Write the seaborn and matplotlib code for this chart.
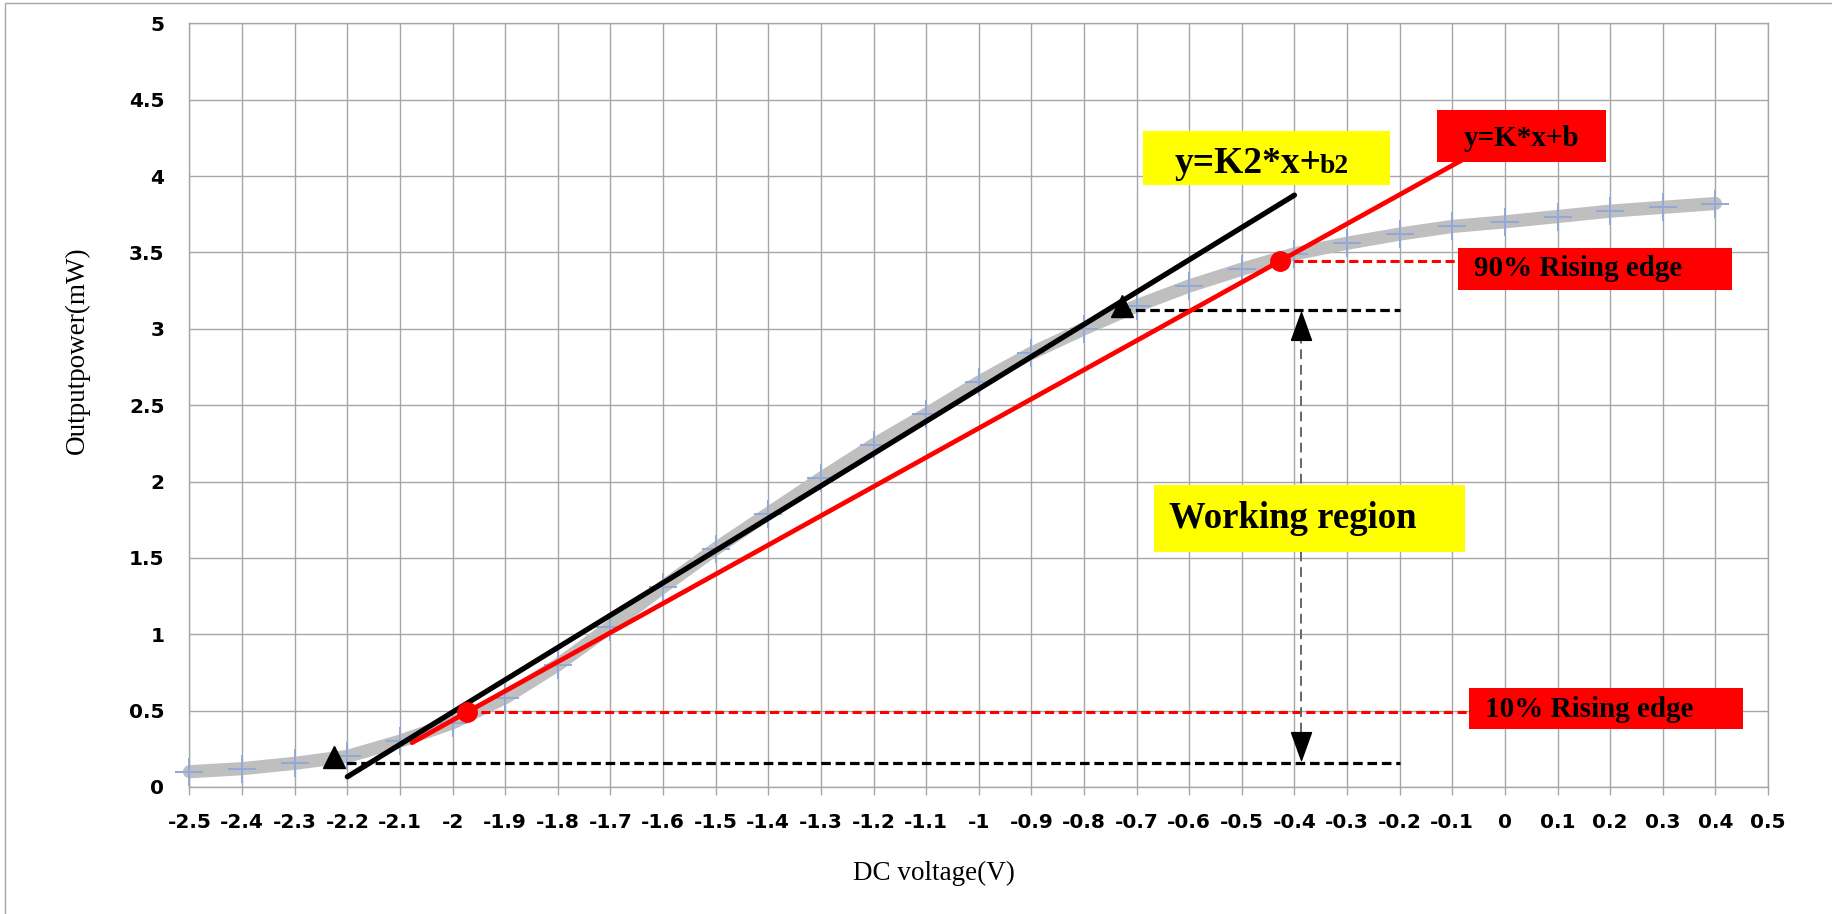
import numpy as np
import pandas as pd
import matplotlib
matplotlib.use("Agg")
import matplotlib.pyplot as plt
from matplotlib.patches import Rectangle
from matplotlib.lines import Line2D
import seaborn as sns

# ---------------- data ----------------
voltage = [-2.5, -2.4, -2.3, -2.2, -2.1, -2.0, -1.9, -1.8, -1.7, -1.6,
           -1.5, -1.4, -1.3, -1.2, -1.1, -1.0, -0.9, -0.8, -0.7, -0.6,
           -0.5, -0.4, -0.3, -0.2, -0.1, 0.0, 0.1, 0.2, 0.3, 0.4]
power = [0.10, 0.12, 0.155, 0.20, 0.30, 0.42, 0.585, 0.80, 1.05, 1.31,
         1.56, 1.79, 2.02, 2.24, 2.44, 2.65, 2.84, 3.00, 3.15, 3.28,
         3.39, 3.49, 3.56, 3.62, 3.67, 3.70, 3.735, 3.77, 3.795, 3.82]

# fitted lines (endpoints)
fit_k2_x = [-2.20, -0.40]
fit_k2_y = [0.067, 3.875]
fit_k_x = [-2.077, -0.06]
fit_k_y = [0.29, 4.146]

# 10% / 90% rising-edge points
edge_x = [-1.973, -0.428]
edge_y = [0.49, 3.443]
edge_line_end = [-0.069, -0.09]

# working region
region_low = 0.155
region_high = 3.124
region_low_start = -2.23
region_high_start = -0.73
region_end = -0.2
region_x = -0.388
tri_x = [-2.225, -0.728]
tri_y = [0.199, 3.151]

x_ticks = [-2.5, -2.4, -2.3, -2.2, -2.1, -2.0, -1.9, -1.8, -1.7, -1.6,
           -1.5, -1.4, -1.3, -1.2, -1.1, -1.0, -0.9, -0.8, -0.7, -0.6,
           -0.5, -0.4, -0.3, -0.2, -0.1, 0.0, 0.1, 0.2, 0.3, 0.4, 0.5]
y_ticks = [0, 0.5, 1, 1.5, 2, 2.5, 3, 3.5, 4, 4.5, 5]
x_label = "DC voltage(V)"
y_label = "Outputpower(mW)"

# ---------------- figure ----------------
sns.set_theme(style="white")
plt.rcParams['font.family'] = ['DejaVu Sans']
plt.rcParams['text.color'] = 'black'
serif = ['Liberation Serif', 'DejaVu Serif']

fig = plt.figure(figsize=(18.33, 9.14), dpi=100)
ax = fig.add_axes([0.10338, 0.13895, 0.86116, 0.83556])

df = pd.DataFrame({'voltage': voltage, 'power': power})
sns.lineplot(data=df, x='voltage', y='power', ax=ax, color='#bfbfbf', lw=9.5,
             solid_capstyle='round', zorder=2, clip_on=False)
sns.scatterplot(data=df, x='voltage', y='power', ax=ax, marker='+', s=380,
                color='#8fa9d6', linewidth=1.4, zorder=3, clip_on=False)

grid_c = '#a6a6a6'
dash = (0, (3, 1.5))
# dashed guide lines
ax.plot([edge_x[0], edge_line_end[0]], [edge_y[0]] * 2, color='red', lw=2.2, ls=dash, zorder=4)
ax.plot([edge_x[1], edge_line_end[1]], [edge_y[1]] * 2, color='red', lw=2.2, ls=dash, zorder=4)
ax.plot([region_low_start, region_end], [region_low] * 2, color='black', lw=2.3, ls=dash, zorder=4)
ax.plot([region_high_start, region_end], [region_high] * 2, color='black', lw=2.3, ls=dash, zorder=4)
ax.plot([region_x] * 2, [region_low + 0.1, region_high - 0.1], color='#666666', lw=1.4,
        ls=(0, (5, 3)), zorder=4)
down_head = [(-0.36, 0.5), (0.36, 0.5), (0, -0.5), (-0.36, 0.5)]
up_head = [(-0.36, -0.5), (0.36, -0.5), (0, 0.5), (-0.36, -0.5)]
ax.plot([region_x], [0.27], marker=down_head, ms=20, color='black', ls='none', zorder=7)
ax.plot([region_x], [3.018], marker=up_head, ms=20, color='black', ls='none', zorder=7)

# fitted lines
ax.plot(fit_k_x, fit_k_y, color='red', lw=3.4, zorder=5)
ax.plot(fit_k2_x, fit_k2_y, color='black', lw=3.8, zorder=6)
ax.plot(edge_x, edge_y, 'o', color='red', ms=14, zorder=7)
ax.plot(tri_x, tri_y, '^', color='black', ms=16, zorder=7)

# annotation boxes
def box(x0, x1, y0, y1, fc):
    ax.add_patch(Rectangle((x0, y0), x1 - x0, y1 - y0, facecolor=fc,
                           edgecolor='none', zorder=8))

txt = dict(fontweight='bold', family=serif, color='black', va='baseline', zorder=9)

box(-0.688, -0.219, 3.941, 4.292, 'yellow')
ax.text(-0.627, 4.02, "y=K2*x+", fontsize=27, ha='left', **txt)
ax.text(-0.352, 4.02, "b2", fontsize=20, ha='left', **txt)

box(-0.129, 0.192, 4.089, 4.430, 'red')
ax.text(0.031, 4.196, "y=K*x+b", fontsize=21, ha='center', **txt)

box(-0.089, 0.431, 3.257, 3.532, 'red')
ax.text(-0.059, 3.344, "90% Rising edge", fontsize=21, ha='left', **txt)

box(-0.069, 0.452, 0.380, 0.647, 'red')
ax.text(-0.038, 0.461, "10% Rising edge", fontsize=21, ha='left', **txt)

box(-0.667, -0.076, 1.540, 1.979, 'yellow')
ax.text(-0.638, 1.697, "Working region", fontsize=26.5, ha='left', **txt)

# axes styling
ax.set_xlim(-2.5, 0.5)
ax.set_ylim(0, 5)
ax.set_xticks(x_ticks)
ax.set_yticks(y_ticks)
ax.set_xticklabels([f"{v:g}" for v in x_ticks])
ax.set_yticklabels([f"{v:g}" for v in y_ticks])
ax.grid(True, color=grid_c, lw=1.0)
ax.set_axisbelow(True)
for s in ax.spines.values():
    s.set_visible(True)
    s.set_color(grid_c)
    s.set_linewidth(1.0)
ax.tick_params(axis='x', length=6, width=1, color=grid_c, pad=13, labelsize=14.5,
               bottom=True, labelcolor='black')
ax.tick_params(axis='y', length=0, pad=18, labelsize=14.5, labelcolor='black')
for lab in ax.get_xticklabels() + ax.get_yticklabels():
    lab.set_fontweight('bold')

ax.set_xlabel(x_label, fontsize=19.5, family=serif, color='black')
ax.set_ylabel(y_label, fontsize=19.5, family=serif, color='black')
ax.xaxis.set_label_coords(0.4717, -0.1126)
ax.xaxis.label.set_verticalalignment('center')
ax.yaxis.set_label_coords(-0.0713, 0.572)
ax.yaxis.label.set_verticalalignment('center')

# outer chart frame
fig.add_artist(Line2D([5 / 1833, 5 / 1833, 1.0], [0, 1 - 3 / 914, 1 - 3 / 914],
                      transform=fig.transFigure, color=grid_c, lw=1.0))

fig.savefig('out.png', dpi=100)
